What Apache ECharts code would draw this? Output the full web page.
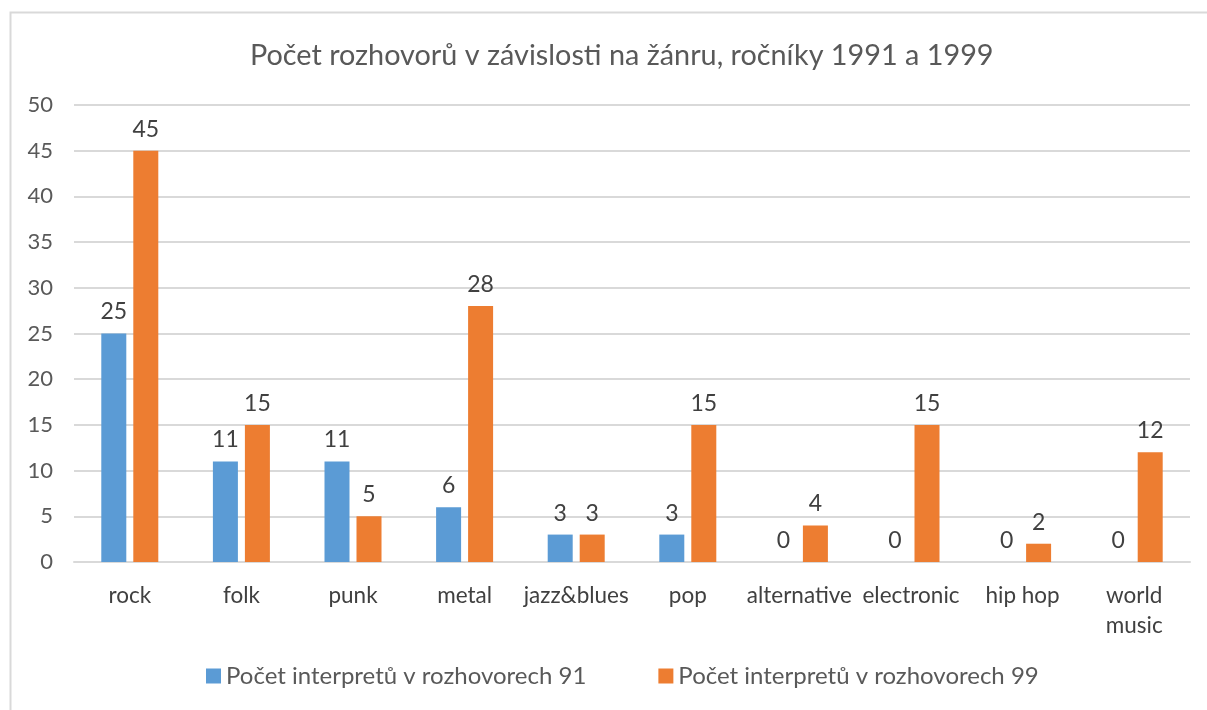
<!DOCTYPE html>
<html>
<head>
<meta charset="utf-8">
<script src="https://cdn.jsdelivr.net/npm/echarts@6/dist/echarts.min.js"></script>
<style>
  html, body { margin: 0; padding: 0; background: #fff; }
  #chart { width: 1207px; height: 710px; }
</style>
</head>
<body>
<div id="chart"></div>
<script>
// data
const categories = ['rock', 'folk', 'punk', 'metal', 'jazz&blues', 'pop', 'alternative', 'electronic', 'hip hop', 'world\nmusic']
const values91 = [25, 11, 11, 6, 3, 3, 0, 0, 0, 0]
const values99 = [45, 15, 5, 28, 3, 15, 4, 15, 2, 12]
const seriesNames = ['Počet interpretů v rozhovorech 91', 'Počet interpretů v rozhovorech 99']
const yTicks = [0, 5, 10, 15, 20, 25, 30, 35, 40, 45, 50]

const font = 'Lato, "Open Sans", sans-serif'
const chart = echarts.init(document.getElementById('chart'))

const labelStyle = {
  show: true,
  position: 'top',
  distance: 10,
  color: '#404040',
  fontSize: 23,
  fontFamily: font
}

chart.setOption({
  animation: false,
  backgroundColor: '#fff',
  graphic: [{
    type: 'rect',
    shape: { x: 10.5, y: 12.5, width: 1210, height: 720 },
    style: { fill: 'none', stroke: '#d9d9d9', lineWidth: 2 },
    silent: true
  }],
  title: {
    text: 'Počet rozhovorů v závislosti na žánru, ročníky 1991 a 1999',
    left: 245,
    top: 36,
    textStyle: { color: '#595959', fontSize: 28.8, fontWeight: 'normal', fontFamily: font }
  },
  legend: {
    data: seriesNames,
    bottom: 17,
    left: 201,
    itemWidth: 15,
    itemHeight: 15,
    itemGap: 72,
    icon: 'rect',
    textStyle: { color: '#595959', fontSize: 24, fontFamily: font }
  },
  grid: { left: 74, right: 17, top: 105, bottom: 148 },
  xAxis: {
    type: 'category',
    data: categories,
    axisLine: { lineStyle: { color: '#d9d9d9', width: 2 } },
    axisTick: { show: false },
    axisLabel: { color: '#404040', fontSize: 22.5, fontFamily: font, margin: 19, lineHeight: 30, interval: 0 }
  },
  yAxis: {
    type: 'value',
    min: yTicks[0],
    max: yTicks[yTicks.length - 1],
    interval: 5,
    axisLine: { show: false },
    axisTick: { show: false },
    axisLabel: { color: '#595959', fontSize: 22, fontFamily: font, margin: 21 },
    splitLine: { lineStyle: { color: '#d9d9d9', width: 2 } }
  },
  series: [
    {
      name: seriesNames[0],
      type: 'bar',
      data: values91,
      barWidth: 25,
      barGap: '28%',
      itemStyle: { color: '#5b9bd5' },
      label: labelStyle
    },
    {
      name: seriesNames[1],
      type: 'bar',
      data: values99,
      barWidth: 25,
      itemStyle: { color: '#ed7d31' },
      label: labelStyle
    }
  ]
})
</script>
</body>
</html>
